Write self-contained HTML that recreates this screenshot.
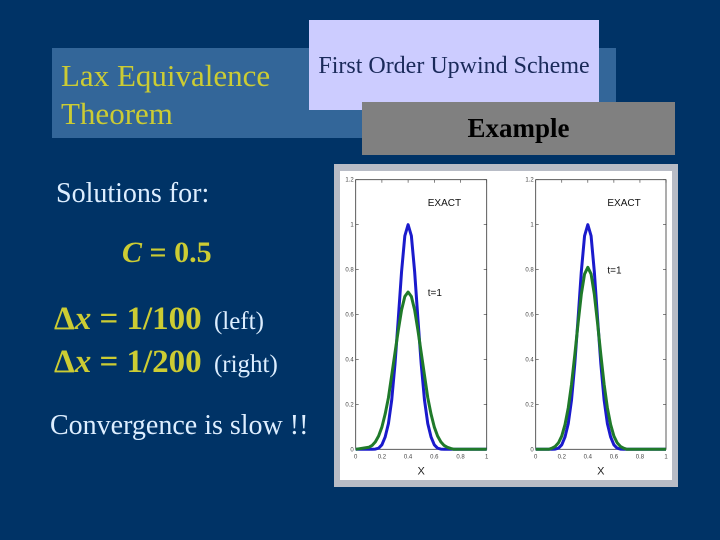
<!DOCTYPE html>
<html><head><meta charset="utf-8"><style>
html,body{margin:0;padding:0}
body{width:720px;height:540px;background:#003366;position:relative;overflow:hidden;font-family:"Liberation Serif",serif}
.abs{position:absolute;white-space:nowrap}
</style></head><body>
<div class="abs" style="left:52px;top:48px;width:564px;height:90px;background:#336699"></div>
<div class="abs" style="left:61px;top:57px;color:#cccc33;font-size:31px;line-height:38px">Lax Equivalence<br>Theorem</div>
<div class="abs" style="left:309px;top:20px;width:290px;height:90px;background:#ccccff;color:#1a2a5a;font-size:24px;text-align:center;"><div style="margin-top:33px">First Order Upwind Scheme</div></div>
<div class="abs" style="left:362px;top:102px;width:313px;height:53px;background:#808080;color:#000;font-size:27px;font-weight:bold;text-align:center;line-height:53px">Example</div>
<div class="abs" style="left:56px;top:178px;color:#ddeeff;font-size:28px">Solutions for:</div>
<div class="abs" style="left:122px;top:236px;color:#cccc33;font-size:30px;font-weight:bold"><i>C</i> = 0.5</div>
<div class="abs" style="left:54px;top:301px;color:#cccc33;font-size:33px;font-weight:bold">Δ<i>x</i> = 1/100 <span style="font-size:25px;font-weight:normal;color:#ddeeff;margin-left:4px">(left)</span></div>
<div class="abs" style="left:54px;top:344px;color:#cccc33;font-size:33px;font-weight:bold">Δ<i>x</i> = 1/200 <span style="font-size:25px;font-weight:normal;color:#ddeeff;margin-left:4px">(right)</span></div>
<div class="abs" style="left:50px;top:410px;color:#ddeeff;font-size:28px">Convergence is slow !!</div>

<svg class="abs" style="left:0;top:0" width="720" height="540" id="chart">
<rect x="334" y="164" width="344" height="323" fill="#b8bcc6"/>
<rect x="340" y="171" width="332" height="309" fill="#ffffff"/>
</svg>
<script>
const xs=[0,0.1,0.125,0.15,0.175,0.2,0.225,0.25,0.275,0.3,0.325,0.35,0.375,0.4,0.425,0.45,0.475,0.5,0.525,0.55,0.575,0.6,0.625,0.65,0.675,0.7,0.725,0.75,1];
const exact=[0,0,0,0.001,0.005,0.02,0.055,0.115,0.22,0.38,0.58,0.79,0.95,1,0.95,0.79,0.58,0.38,0.22,0.115,0.055,0.02,0.005,0.001,0,0,0,0,0];
const leftNum=[0,0.009,0.017,0.033,0.059,0.099,0.157,0.23,0.33,0.43,0.53,0.62,0.68,0.70,0.68,0.62,0.53,0.43,0.33,0.23,0.157,0.099,0.059,0.033,0.017,0.009,0.004,0,0];
const rightNum=[0,0,0.005,0.013,0.029,0.059,0.11,0.185,0.29,0.42,0.56,0.69,0.78,0.81,0.78,0.69,0.56,0.42,0.29,0.185,0.11,0.059,0.029,0.013,0.005,0,0,0,0];
const yTicks=[0,0.2,0.4,0.6,0.8,1,1.2];
const xTicks=[0,0.2,0.4,0.6,0.8,1];
const svg=document.getElementById('chart');
const NS='http://www.w3.org/2000/svg';
function mk(t,a){const e=document.createElementNS(NS,t);for(const k in a)e.setAttribute(k,a[k]);svg.appendChild(e);return e;}
function panel(x0,x1,num,name,lblY){
  const y0=449.3,y1=179.7;
  const sx=v=>x0+v*(x1-x0), sy=v=>y0-v/1.2*(y0-y1);
  const box=mk('rect',{x:x0,y:y1,width:x1-x0,height:y0-y1,fill:'none',stroke:'#333','stroke-width':0.8});
  
  
  yTicks.forEach(v=>{
    const t=mk('text',{x:x0-2,y:sy(v)+2,'font-size':6,'text-anchor':'end',fill:'#444','font-family':'Liberation Sans, sans-serif'});
    t.textContent=v;
    
    
    mk('line',{x1:x0,x2:x0+3,y1:sy(v),y2:sy(v),stroke:'#333','stroke-width':0.6});
    mk('line',{x1:x1-3,x2:x1,y1:sy(v),y2:sy(v),stroke:'#333','stroke-width':0.6});
  });
  xTicks.forEach(v=>{
    const t=mk('text',{x:sx(v),y:y0+9,'font-size':6,'text-anchor':'middle',fill:'#444','font-family':'Liberation Sans, sans-serif'});
    t.textContent=v;
    
    
    mk('line',{x1:sx(v),x2:sx(v),y1:y1,y2:y1+3,stroke:'#333','stroke-width':0.6});
  });
  const xl=mk('text',{x:(x0+x1)/2,y:y0+25,'font-size':11,'text-anchor':'middle',fill:'#222','font-family':'Liberation Sans, sans-serif'});
  xl.textContent='X';
  
  
  const line=(ys,c,n)=>{
    const p=mk('polyline',{points:xs.map((x,i)=>sx(x)+','+sy(ys[i])).join(' '),fill:'none',stroke:c,'stroke-width':3,'stroke-linejoin':'round'});
    
    
  };
  line(exact,'#1a1acc',name+'-exact-curve');
  line(num,'#1f7a2a',name+'-numerical-curve');
  const ex=mk('text',{x:sx(0.55),y:sy(1.1)+4,'font-size':10,fill:'#111','font-family':'Liberation Sans, sans-serif'});
  ex.textContent='EXACT';
  
  
  const tl=mk('text',{x:sx(0.55),y:sy(lblY)+4,'font-size':10,fill:'#111','font-family':'Liberation Sans, sans-serif'});
  tl.textContent='t=1';
  
  
}
panel(355.7,486.7,leftNum,'left-plot',0.70);
panel(535.7,666,rightNum,'right-plot',0.80);
</script>
</body></html>
